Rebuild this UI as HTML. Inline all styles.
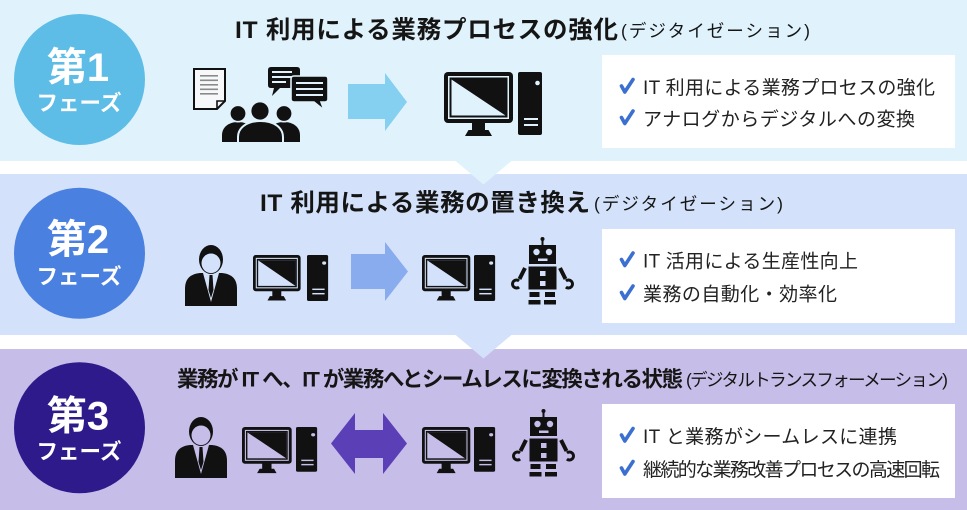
<!DOCTYPE html>
<html lang="ja">
<head>
<meta charset="utf-8">
<style>
  html, body { margin: 0; padding: 0; background: #ffffff; }
  body { width: 967px; height: 510px; overflow: hidden; }
  svg { display: block; }
  text { font-family: "Liberation Sans", "Noto Sans CJK JP", sans-serif; }
</style>
</head>
<body>
<svg width="967" height="510" viewBox="0 0 967 510" xmlns="http://www.w3.org/2000/svg">
  <!-- backgrounds -->
  <rect x="0" y="0" width="967" height="510" fill="#ffffff"/>
  <rect x="0" y="0" width="967" height="161" fill="#e0f3fc"/>
  <rect x="0" y="174" width="967" height="161" fill="#d3e2fa"/>
  <rect x="0" y="349" width="967" height="161" fill="#c6bde8"/>
  <!-- connector triangles -->
  <polygon points="455,160.5 512,160.5 483.5,184.5" fill="#e0f3fc"/>
  <polygon points="455,334.5 512,334.5 483.5,358.5" fill="#d3e2fa"/>

  <!-- circles -->
  <circle cx="79.5" cy="79.5" r="65.5" fill="#5ebde6"/>
  <circle cx="79.5" cy="253.3" r="65.5" fill="#4a80df"/>
  <circle cx="79.5" cy="427.8" r="65.5" fill="#2f1a8b"/>
  <text x="78" y="81" font-size="40" font-weight="700" fill="#ffffff" text-anchor="middle">第1</text>
  <text x="79" y="110.5" font-size="21.5" font-weight="700" fill="#ffffff" text-anchor="middle">フェーズ</text>
  <text x="78" y="253" font-size="40" font-weight="700" fill="#ffffff" text-anchor="middle">第2</text>
  <text x="79" y="284" font-size="21.5" font-weight="700" fill="#ffffff" text-anchor="middle">フェーズ</text>
  <text x="78" y="429.5" font-size="40" font-weight="700" fill="#ffffff" text-anchor="middle">第3</text>
  <text x="79" y="459" font-size="21.5" font-weight="700" fill="#ffffff" text-anchor="middle">フェーズ</text>

  <!-- titles -->
  <text x="235" y="38" font-size="24.5" font-weight="700" fill="#151515" textLength="383" lengthAdjust="spacing">IT 利用による業務プロセスの強化</text>
  <text x="621" y="37" font-size="17.5" fill="#151515" textLength="189" lengthAdjust="spacing">(デジタイゼーション)</text>
  <text x="260" y="211" font-size="24.5" font-weight="700" fill="#151515" textLength="330" lengthAdjust="spacing">IT 利用による業務の置き換え</text>
  <text x="594" y="210" font-size="17.5" fill="#151515" textLength="189" lengthAdjust="spacing">(デジタイゼーション)</text>
  <text x="177" y="386.5" font-size="21.5" font-weight="700" fill="#151515" textLength="506" lengthAdjust="spacing">業務が IT へ、IT が業務へとシームレスに変換される状態</text>
  <text x="686" y="386" font-size="17.5" fill="#151515" textLength="262" lengthAdjust="spacing">(デジタルトランスフォーメーション)</text>

  <!-- white boxes -->
  <rect x="602" y="55" width="353" height="93" fill="#ffffff"/>
  <rect x="602" y="229" width="353" height="94" fill="#ffffff"/>
  <rect x="602" y="404" width="353" height="94" fill="#ffffff"/>

  <!-- checks -->
  <g fill="none" stroke="#3b6fd0" stroke-width="3.6" stroke-linecap="round" stroke-linejoin="round">
    <path d="M621.5,86 L624.8,92 L633,79.5"/>
    <path d="M621.5,117.5 L624.8,123.5 L633,111"/>
    <path d="M621.5,259.5 L624.8,265.5 L633,253"/>
    <path d="M621.5,292.5 L624.8,298.5 L633,286"/>
    <path d="M621.5,435 L624.8,441 L633,428.5"/>
    <path d="M621.5,468 L624.8,474 L633,461.5"/>
  </g>
  <!-- bullet texts -->
  <g font-size="19" fill="#222222">
    <text x="643" y="94" textLength="292" lengthAdjust="spacing">IT 利用による業務プロセスの強化</text>
    <text x="643" y="125.5" textLength="272" lengthAdjust="spacing">アナログからデジタルへの変換</text>
    <text x="643" y="267.5" textLength="215" lengthAdjust="spacing">IT 活用による生産性向上</text>
    <text x="643" y="300.5" textLength="194" lengthAdjust="spacing">業務の自動化・効率化</text>
    <text x="643" y="443" textLength="254" lengthAdjust="spacing">IT と業務がシームレスに連携</text>
    <text x="643" y="476" textLength="297" lengthAdjust="spacing">継続的な業務改善プロセスの高速回転</text>
  </g>

  <!-- ===== Band 1 icons ===== -->
  <!-- document -->
  <path d="M194,69 L225,69 L225,101 L217,109 L194,109 Z" fill="#f6f8f9" stroke="#111" stroke-width="2"/>
  <path d="M225,101 L217,101 L217,109" fill="none" stroke="#111" stroke-width="1.6"/>
  <g fill="#8a8a8a">
    <rect x="200" y="75" width="18" height="1.6"/>
    <rect x="200" y="79.5" width="18" height="1.6"/>
    <rect x="200" y="84" width="18" height="1.6"/>
    <rect x="200" y="88.5" width="18" height="1.6"/>
    <rect x="200" y="93" width="18" height="1.6"/>
  </g>
  <!-- speech bubbles -->
  <path d="M271,67 L297,67 Q300,67 300,70 L300,85 Q300,88 297,88 L280,88 L272,96 L274,88 L271,88 Q268,88 268,85 L268,70 Q268,67 271,67 Z" fill="#111"/>
  <g fill="#e0f3fc">
    <rect x="272" y="71" width="20" height="2"/>
    <rect x="272" y="76" width="20" height="2"/>
    <rect x="272" y="81" width="14" height="2"/>
  </g>
  <path d="M294,76 L325,76 Q328,76 328,79 L328,99 Q328,102 325,102 L321,102 L324,110 L314,102 L294,102 Q291,102 291,99 L291,79 Q291,76 294,76 Z" fill="#111" stroke="#e0f3fc" stroke-width="1.6"/>
  <g fill="#e0f3fc">
    <rect x="296" y="82" width="27" height="2"/>
    <rect x="296" y="88" width="27" height="2"/>
    <rect x="296" y="94" width="27" height="2"/>
  </g>
  <!-- people -->
  <path d="M222,142 L222,135 C222,127 229,122 238,122 C247,122 254,127 254,135 L254,142 Z" fill="#111"/>
  <path d="M268,142 L268,135 C268,127 275,122 284,122 C293,122 300,127 300,135 L300,142 Z" fill="#111"/>
  <circle cx="238" cy="113.5" r="8.2" fill="#111" stroke="#e0f3fc" stroke-width="1.6"/>
  <circle cx="284" cy="113.5" r="8.2" fill="#111" stroke="#e0f3fc" stroke-width="1.6"/>
  <path d="M238,143 L238,137 C238,127 248,121 260.5,121 C273,121 283,127 283,137 L283,143 Z" fill="#111" stroke="#e0f3fc" stroke-width="2"/>
  <circle cx="260" cy="111" r="9.6" fill="#111" stroke="#e0f3fc" stroke-width="2"/>
  <!-- arrow 1 -->
  <polygon points="348,84 385,84 385,73 407,102 385,131 385,119 348,119" fill="#85cff0"/>
  <!-- monitor 1 -->
  <g transform="translate(444,72)">
    <rect x="0" y="0" width="69" height="51" rx="4" fill="#111"/>
    <rect x="4" y="4" width="61" height="43" fill="#e0f3fc"/>
    <rect x="5.5" y="5.5" width="58" height="40" fill="#111"/>
    <rect x="7.5" y="7.5" width="54" height="36" fill="#e0f3fc"/>
    <polygon points="7.5,7.5 61.5,7.5 61.5,43.5" fill="#111"/>
    <rect x="28" y="50" width="13" height="9" fill="#111"/>
    <path d="M21,64 L48,64 L44.5,58 L24.5,58 Z" fill="#111"/>
  </g>
  <g transform="translate(518,72)">
    <rect x="0" y="0" width="24" height="63" rx="2" fill="#111"/>
    <circle cx="19.5" cy="11" r="2.3" fill="#e0f3fc"/>
    <rect x="6" y="46" width="14" height="2" fill="#e0f3fc"/>
    <rect x="6" y="52" width="14" height="2" fill="#e0f3fc"/>
  </g>

  <!-- ===== Band 2 icons ===== -->
  <g transform="translate(185,245)">
    <path d="M0,61 L0,44 C0,33 6,29 15,28 L37,28 C46,29 52,33 52,44 L52,61 Z" fill="#111"/>
    <polygon points="18,28 34,28 26,57" fill="#d3e2fa"/>
    <polygon points="24.5,30 27.5,30 28.5,45 26,53 23.5,45" fill="#111"/>
    <ellipse cx="26" cy="14.5" rx="12" ry="14.5" fill="#111"/>
    <ellipse cx="26" cy="18.3" rx="9.5" ry="9.8" fill="#d3e2fa"/>
  </g>
  <g transform="translate(253,255) scale(0.69,0.71)">
    <rect x="0" y="0" width="69" height="51" rx="4" fill="#111"/>
    <rect x="4" y="4" width="61" height="43" fill="#d3e2fa"/>
    <rect x="5.5" y="5.5" width="58" height="40" fill="#111"/>
    <rect x="7.5" y="7.5" width="54" height="36" fill="#d3e2fa"/>
    <polygon points="7.5,7.5 61.5,7.5 61.5,43.5" fill="#111"/>
    <rect x="28" y="50" width="13" height="9" fill="#111"/>
    <path d="M21,64 L48,64 L44.5,58 L24.5,58 Z" fill="#111"/>
  </g>
  <g transform="translate(307,255) scale(0.88,0.73)">
    <rect x="0" y="0" width="24" height="63" rx="2" fill="#111"/>
    <circle cx="19.5" cy="11" r="2.3" fill="#d3e2fa"/>
    <rect x="6" y="46" width="14" height="2" fill="#d3e2fa"/>
    <rect x="6" y="52" width="14" height="2" fill="#d3e2fa"/>
  </g>
  <polygon points="351,254 385,254 385,242 408,271.5 385,301 385,289 351,289" fill="#89acef"/>
  <g transform="translate(422,255) scale(0.7,0.71)">
    <rect x="0" y="0" width="69" height="51" rx="4" fill="#111"/>
    <rect x="4" y="4" width="61" height="43" fill="#d3e2fa"/>
    <rect x="5.5" y="5.5" width="58" height="40" fill="#111"/>
    <rect x="7.5" y="7.5" width="54" height="36" fill="#d3e2fa"/>
    <polygon points="7.5,7.5 61.5,7.5 61.5,43.5" fill="#111"/>
    <rect x="28" y="50" width="13" height="9" fill="#111"/>
    <path d="M21,64 L48,64 L44.5,58 L24.5,58 Z" fill="#111"/>
  </g>
  <g transform="translate(474,255) scale(0.88,0.73)">
    <rect x="0" y="0" width="24" height="63" rx="2" fill="#111"/>
    <circle cx="19.5" cy="11" r="2.3" fill="#d3e2fa"/>
    <rect x="6" y="46" width="14" height="2" fill="#d3e2fa"/>
    <rect x="6" y="52" width="14" height="2" fill="#d3e2fa"/>
  </g>
  <!-- robot 2 -->
  <g transform="translate(510,237)">
    <circle cx="32.5" cy="2" r="2" fill="#111"/>
    <rect x="31.5" y="2" width="2" height="7" fill="#111"/>
    <rect x="19" y="8" width="27" height="19" fill="#111"/>
    <circle cx="26.5" cy="15" r="3.2" fill="#d3e2fa"/>
    <circle cx="39" cy="15" r="3.2" fill="#d3e2fa"/>
    <rect x="28" y="21.5" width="9.5" height="2.5" fill="#d3e2fa"/>
    <rect x="18.5" y="29.5" width="28" height="23" fill="#111"/>
    <rect x="30" y="34" width="5.5" height="5" fill="#d3e2fa"/>
    <rect x="30" y="44" width="5.5" height="5" fill="#d3e2fa"/>
    <line x1="15" y1="31" x2="9.5" y2="42" stroke="#111" stroke-width="4"/>
    <line x1="50" y1="31" x2="55.5" y2="42" stroke="#111" stroke-width="4"/>
    <path d="M9.07,43.94 A4,4 0 1 0 9.07,50.06" fill="none" stroke="#111" stroke-width="3"/>
    <path d="M55.93,43.94 A4,4 0 1 1 55.93,50.06" fill="none" stroke="#111" stroke-width="3"/>
    <rect x="19.5" y="55" width="10" height="5" fill="#111"/>
    <rect x="35" y="55" width="10" height="5" fill="#111"/>
    <rect x="18.5" y="63" width="12" height="4.5" fill="#111"/>
    <rect x="34" y="63" width="12" height="4.5" fill="#111"/>
  </g>

  <!-- ===== Band 3 icons ===== -->
  <g transform="translate(175,417)">
    <path d="M0,61 L0,44 C0,33 6,29 15,28 L37,28 C46,29 52,33 52,44 L52,61 Z" fill="#111"/>
    <polygon points="18,28 34,28 26,57" fill="#c6bde8"/>
    <polygon points="24.5,30 27.5,30 28.5,45 26,53 23.5,45" fill="#111"/>
    <ellipse cx="26" cy="14.5" rx="12" ry="14.5" fill="#111"/>
    <ellipse cx="26" cy="18.3" rx="9.5" ry="9.8" fill="#c6bde8"/>
  </g>
  <g transform="translate(242,427) scale(0.72,0.72)">
    <rect x="0" y="0" width="69" height="51" rx="4" fill="#111"/>
    <rect x="4" y="4" width="61" height="43" fill="#c6bde8"/>
    <rect x="5.5" y="5.5" width="58" height="40" fill="#111"/>
    <rect x="7.5" y="7.5" width="54" height="36" fill="#c6bde8"/>
    <polygon points="7.5,7.5 61.5,7.5 61.5,43.5" fill="#111"/>
    <rect x="28" y="50" width="13" height="9" fill="#111"/>
    <path d="M21,64 L48,64 L44.5,58 L24.5,58 Z" fill="#111"/>
  </g>
  <g transform="translate(296,427) scale(0.88,0.71)">
    <rect x="0" y="0" width="24" height="63" rx="2" fill="#111"/>
    <circle cx="19.5" cy="11" r="2.3" fill="#c6bde8"/>
    <rect x="6" y="46" width="14" height="2" fill="#c6bde8"/>
    <rect x="6" y="52" width="14" height="2" fill="#c6bde8"/>
  </g>
  <polygon points="331,443.5 355,413 355,430 383,430 383,413 407,443.5 383,474 383,458 355,458 355,474" fill="#5b3fb6"/>
  <g transform="translate(422,427) scale(0.7,0.72)">
    <rect x="0" y="0" width="69" height="51" rx="4" fill="#111"/>
    <rect x="4" y="4" width="61" height="43" fill="#c6bde8"/>
    <rect x="5.5" y="5.5" width="58" height="40" fill="#111"/>
    <rect x="7.5" y="7.5" width="54" height="36" fill="#c6bde8"/>
    <polygon points="7.5,7.5 61.5,7.5 61.5,43.5" fill="#111"/>
    <rect x="28" y="50" width="13" height="9" fill="#111"/>
    <path d="M21,64 L48,64 L44.5,58 L24.5,58 Z" fill="#111"/>
  </g>
  <g transform="translate(474,427) scale(0.88,0.71)">
    <rect x="0" y="0" width="24" height="63" rx="2" fill="#111"/>
    <circle cx="19.5" cy="11" r="2.3" fill="#c6bde8"/>
    <rect x="6" y="46" width="14" height="2" fill="#c6bde8"/>
    <rect x="6" y="52" width="14" height="2" fill="#c6bde8"/>
  </g>
  <!-- robot 3 -->
  <g transform="translate(511,409)">
    <circle cx="32.5" cy="2" r="2" fill="#111"/>
    <rect x="31.5" y="2" width="2" height="7" fill="#111"/>
    <rect x="19" y="8" width="27" height="19" fill="#111"/>
    <circle cx="26.5" cy="15" r="3.2" fill="#c6bde8"/>
    <circle cx="39" cy="15" r="3.2" fill="#c6bde8"/>
    <rect x="28" y="21.5" width="9.5" height="2.5" fill="#c6bde8"/>
    <rect x="18.5" y="29.5" width="28" height="23" fill="#111"/>
    <rect x="30" y="34" width="5.5" height="5" fill="#c6bde8"/>
    <rect x="30" y="44" width="5.5" height="5" fill="#c6bde8"/>
    <line x1="15" y1="31" x2="9.5" y2="42" stroke="#111" stroke-width="4"/>
    <line x1="50" y1="31" x2="55.5" y2="42" stroke="#111" stroke-width="4"/>
    <path d="M9.07,43.94 A4,4 0 1 0 9.07,50.06" fill="none" stroke="#111" stroke-width="3"/>
    <path d="M55.93,43.94 A4,4 0 1 1 55.93,50.06" fill="none" stroke="#111" stroke-width="3"/>
    <rect x="19.5" y="55" width="10" height="5" fill="#111"/>
    <rect x="35" y="55" width="10" height="5" fill="#111"/>
    <rect x="18.5" y="63" width="12" height="4.5" fill="#111"/>
    <rect x="34" y="63" width="12" height="4.5" fill="#111"/>
  </g>
</svg>
</body>
</html>
